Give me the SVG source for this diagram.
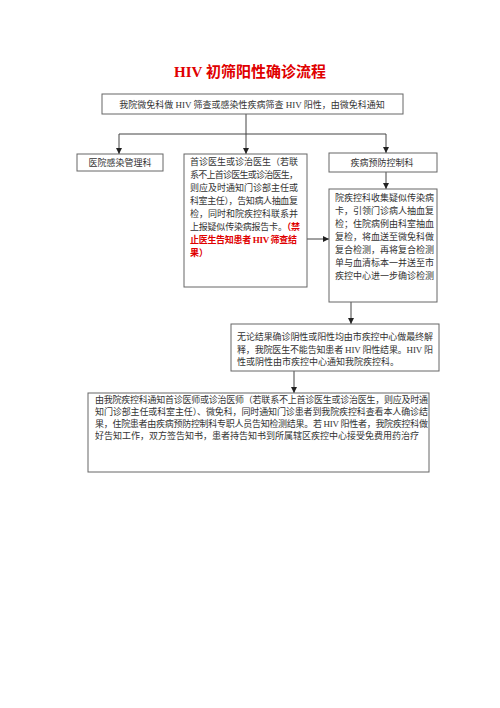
<svg xmlns="http://www.w3.org/2000/svg" width="500" height="708" viewBox="0 0 500 708">
<style>
.box{fill:#fff;stroke:#666;stroke-width:1}
.t{font-family:"Liberation Serif","Noto Sans CJK SC",serif;font-size:9px;fill:#333}
.r{fill:#e00000;font-weight:bold}
.ln{fill:none;stroke:#444;stroke-width:1}
</style>
<defs>
<marker id="ah" viewBox="0 0 6 6" refX="6" refY="3" markerWidth="6" markerHeight="6" orient="auto" markerUnits="userSpaceOnUse">
<path d="M0,0 L6,3 L0,6 Z" fill="#222"/>
</marker>
</defs>
<rect width="500" height="708" fill="#fff"/>
<text id="title" x="250" y="77" text-anchor="middle" style="font-family:'Liberation Serif','Noto Sans CJK SC',serif;font-size:15px;font-weight:bold;fill:#e00000">HIV 初筛阳性确诊流程</text>

<g id="connectors" class="ln">
<path d="M246,114 V134"/>
<path d="M119,134 H386"/>
<path d="M119,134 V154" marker-end="url(#ah)"/>
<path d="M246,134 V154" marker-end="url(#ah)"/>
<path d="M386,134 V153" marker-end="url(#ah)"/>
<path d="M386,172 V189" marker-end="url(#ah)"/>
<path d="M307,239 H329" marker-end="url(#ah)"/>
<path d="M351,302 V324" marker-end="url(#ah)"/>
<path d="M294,371 V393" marker-end="url(#ah)"/>
</g>

<g id="n_top">
<rect class="box" x="102" y="94" width="301" height="20"/>
<text class="t" x="252" y="107.5" text-anchor="middle">我院微免科做 HIV 筛查或感染性疾病筛查 HIV 阳性，由微免科通知</text>
</g>

<g id="n_left">
<rect class="box" x="77" y="154" width="86" height="17"/>
<text class="t" x="120" y="166" text-anchor="middle">医院感染管理科</text>
</g>

<g id="n_mid">
<rect class="box" x="184" y="154" width="123" height="133"/>
<text class="t" x="190" y="165" textLength="108">首诊医生或诊治医生（若联</text>
<text class="t" x="190" y="178" textLength="108">系不上首诊医生或诊治医生，</text>
<text class="t" x="190" y="191" textLength="108">则应及时通知门诊部主任或</text>
<text class="t" x="190" y="204" textLength="108">科室主任），告知病人抽血复</text>
<text class="t" x="190" y="217">检，同时和院疾控科联系并</text>
<text class="t" x="190" y="230" textLength="110">上报疑似传染病报告卡。<tspan class="r">（禁</tspan></text>
<text class="t r" x="190" y="243" textLength="107">止医生告知患者 HIV 筛查结</text>
<text class="t r" x="190" y="256">果）</text>
</g>

<g id="n_cdc">
<rect class="box" x="329" y="153" width="108" height="19"/>
<text class="t" x="382" y="165.5" text-anchor="middle">疾病预防控制科</text>
</g>

<g id="n_collect">
<rect class="box" x="329" y="189" width="108" height="113"/>
<text class="t" x="335" y="201">院疾控科收集疑似传染病</text>
<text class="t" x="335" y="214">卡，引领门诊病人抽血复</text>
<text class="t" x="335" y="227">检；住院病例由科室抽血</text>
<text class="t" x="335" y="240">复检，将血送至微免科做</text>
<text class="t" x="335" y="253">复合检测，再将复合检测</text>
<text class="t" x="335" y="266">单与血清标本一并送至市</text>
<text class="t" x="335" y="279">疾控中心进一步确诊检测</text>
</g>

<g id="n_result">
<rect class="box" x="231" y="324" width="208" height="47"/>
<text class="t" x="237" y="340" textLength="196">无论结果确诊阴性或阳性均由市疾控中心做最终解</text>
<text class="t" x="237" y="352.5" textLength="196">释，我院医生不能告知患者 HIV 阳性结果。HIV 阳</text>
<text class="t" x="237" y="365">性或阴性由市疾控中心通知我院疾控科。</text>
</g>

<g id="n_notify">
<rect class="box" x="88" y="393" width="341" height="79"/>
<text class="t" x="95" y="402.5" textLength="333">由我院疾控科通知首诊医师或诊治医师（若联系不上首诊医生或诊治医生，则应及时通</text>
<text class="t" x="95" y="414.5" textLength="333">知门诊部主任或科室主任）、微免科，同时通知门诊患者到我院疾控科查看本人确诊结</text>
<text class="t" x="95" y="426.5" textLength="333">果，住院患者由疾病预防控制科专职人员告知检测结果。若 HIV 阳性者，我院疾控科做</text>
<text class="t" x="95" y="438.5">好告知工作，双方签告知书，患者持告知书到所属辖区疾控中心接受免费用药治疗</text>
</g>
</svg>
